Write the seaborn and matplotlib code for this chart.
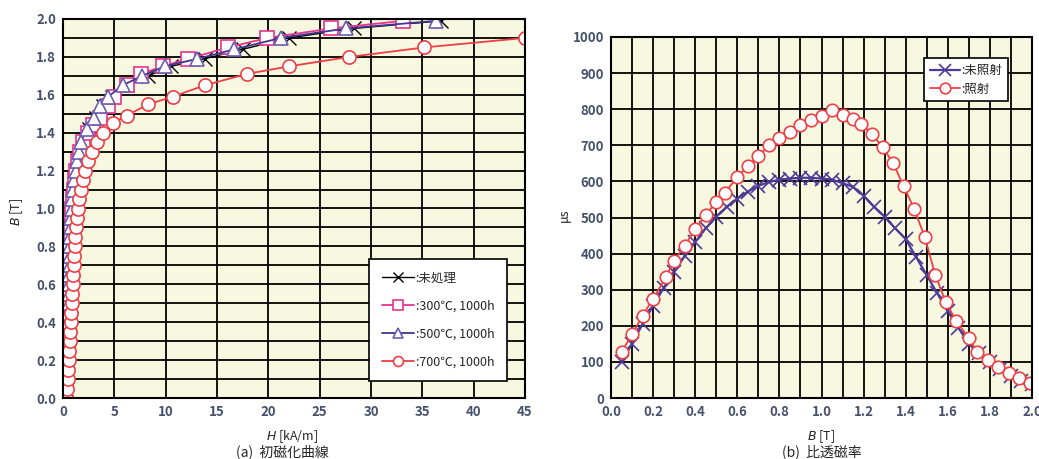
import matplotlib
matplotlib.use('Agg')
import matplotlib.pyplot as plt
import seaborn as sns
import numpy as np
from matplotlib.ticker import MultipleLocator

# (a) 初磁化曲線 : B [T] と H [kA/m]
B_raw = [0.00, 0.05, 0.10, 0.15, 0.20, 0.25, 0.30, 0.35, 0.40, 0.45, 0.50, 0.55, 0.60, 0.65,
         0.70, 0.75, 0.80, 0.85, 0.90, 0.95, 1.00, 1.05, 1.10, 1.15, 1.20, 1.25, 1.30, 1.35,
         1.42, 1.48, 1.54, 1.59, 1.65, 1.70, 1.75, 1.79, 1.84, 1.90, 1.95, 1.99]
H_raw = [0.15, 0.25, 0.30, 0.35, 0.40, 0.45, 0.50, 0.55, 0.58, 0.60, 0.62, 0.65, 0.68, 0.70,
         0.72, 0.75, 0.78, 0.80, 0.85, 0.90, 0.95, 1.00, 1.10, 1.20, 1.35, 1.50, 1.70, 1.95,
         2.5, 3.2, 3.9, 4.8, 6.2, 8.3, 10.5, 13.8, 17.5, 22.0, 28.3, 36.8]

B_300 = [0.00, 0.05, 0.10, 0.15, 0.20, 0.25, 0.30, 0.35, 0.40, 0.45, 0.50, 0.55, 0.60, 0.65,
         0.70, 0.75, 0.80, 0.85, 0.90, 0.95, 1.00, 1.05, 1.10, 1.15, 1.20, 1.25, 1.30, 1.35,
         1.40, 1.44, 1.48, 1.54, 1.59, 1.65, 1.71, 1.75, 1.79, 1.85, 1.90, 1.95, 1.99]
H_300 = [0.10, 0.20, 0.25, 0.30, 0.35, 0.40, 0.45, 0.50, 0.52, 0.55, 0.57, 0.60, 0.62, 0.65,
         0.68, 0.70, 0.72, 0.75, 0.80, 0.85, 0.90, 0.95, 1.05, 1.15, 1.30, 1.45, 1.65, 1.90,
         2.4, 2.9, 3.6, 4.4, 5.0, 6.2, 7.6, 9.7, 12.2, 16.1, 19.9, 26.1, 33.1]

B_500 = [0.00, 0.05, 0.10, 0.15, 0.20, 0.25, 0.30, 0.35, 0.40, 0.45, 0.50, 0.55, 0.60, 0.65,
         0.70, 0.75, 0.80, 0.85, 0.90, 0.95, 1.00, 1.05, 1.10, 1.15, 1.20, 1.25, 1.30, 1.35,
         1.42, 1.48, 1.54, 1.59, 1.65, 1.70, 1.75, 1.79, 1.84, 1.90, 1.95, 1.99]
H_500 = [0.10, 0.18, 0.22, 0.28, 0.32, 0.38, 0.42, 0.46, 0.50, 0.52, 0.55, 0.58, 0.60, 0.62,
         0.65, 0.68, 0.70, 0.72, 0.76, 0.80, 0.85, 0.90, 1.00, 1.10, 1.22, 1.38, 1.55, 1.75,
         2.3, 3.0, 3.6, 4.4, 5.8, 7.7, 9.9, 13.1, 16.7, 21.2, 27.6, 36.3]

B_700 = [0.00, 0.05, 0.10, 0.15, 0.20, 0.25, 0.30, 0.35, 0.40, 0.45, 0.50, 0.55, 0.60, 0.65,
         0.70, 0.75, 0.80, 0.85, 0.90, 0.95, 1.00, 1.05, 1.10, 1.15, 1.20, 1.25, 1.30, 1.35,
         1.40, 1.45, 1.49, 1.55, 1.59, 1.65, 1.71, 1.75, 1.80, 1.85, 1.90]
H_700 = [0.25, 0.35, 0.45, 0.50, 0.55, 0.60, 0.65, 0.70, 0.75, 0.80, 0.85, 0.90, 0.95, 1.00,
         1.05, 1.10, 1.15, 1.20, 1.30, 1.40, 1.50, 1.60, 1.75, 1.90, 2.10, 2.40, 2.80, 3.30,
         3.9, 4.9, 6.2, 8.3, 10.7, 13.8, 17.9, 22.0, 27.9, 35.2, 45.0]

# (b) 比透磁率 : μs と B [T]
B_mu_off = [0.05, 0.10, 0.15, 0.20, 0.25, 0.30, 0.35, 0.40, 0.45, 0.50, 0.55, 0.60, 0.65, 0.70,
            0.75, 0.80, 0.85, 0.90, 0.95, 1.00, 1.05, 1.10, 1.15, 1.20, 1.25, 1.30, 1.35, 1.40,
            1.45, 1.50, 1.55, 1.60, 1.65, 1.70, 1.75, 1.80, 1.85, 1.90, 1.95, 2.00]
mu_off = [100, 150, 205, 255, 305, 350, 393, 432, 470, 502, 530, 552, 572, 588,
          598, 605, 608, 610, 610, 608, 605, 595, 585, 560, 530, 502, 470, 440,
          390, 340, 290, 240, 195, 150, 125, 100, 80, 62, 48, 40]

B_mu_on = [0.05, 0.10, 0.15, 0.20, 0.26, 0.30, 0.35, 0.40, 0.45, 0.50, 0.54, 0.60, 0.65, 0.70,
           0.75, 0.80, 0.85, 0.90, 0.95, 1.00, 1.05, 1.10, 1.15, 1.19, 1.24, 1.29, 1.34, 1.39,
           1.44, 1.49, 1.54, 1.59, 1.64, 1.70, 1.74, 1.79, 1.84, 1.89, 1.94, 1.99]
mu_on = [128, 176, 228, 275, 334, 380, 422, 468, 507, 543, 568, 612, 643, 670,
         700, 720, 738, 756, 770, 780, 798, 784, 773, 759, 731, 695, 651, 587,
         524, 447, 342, 266, 213, 166, 128, 105, 86, 68, 55, 41]

sns.set_theme(style='white')
plt.rcParams['font.family'] = ['Noto Sans CJK JP', 'DejaVu Sans']

W, H = 1039, 459
fig = plt.figure(figsize=(W / 100, H / 100), dpi=100)
bg = '#F8F7DF'
tick_col = '#46506C'

def px_axes(x0, y0, x1, y1):
    return fig.add_axes([x0 / W, 1 - y1 / H, (x1 - x0) / W, (y1 - y0) / H])

def style_axes(ax):
    ax.set_facecolor(bg)
    ax.grid(True, which='both', color='black', linewidth=1.3)
    ax.set_axisbelow(True)
    for s in ax.spines.values():
        s.set_color('black')
        s.set_linewidth(1.5)
    ax.tick_params(which='both', length=0, pad=5, labelsize=9.5, labelcolor=tick_col)
    for t in ax.get_xticklabels() + ax.get_yticklabels():
        t.set_fontweight('semibold')

def draw(ax, x, y, color, marker, label, ms, lw=1.3, mec=None, mfc='white', mew=1.2):
    sns.lineplot(x=x, y=y, ax=ax, sort=False, estimator=None, color=color, marker=marker,
                 markersize=ms, markerfacecolor=mfc, markeredgecolor=mec or color,
                 markeredgewidth=mew, linewidth=lw, label=label)

# ---- (a)
ax1 = px_axes(63, 19, 525, 398)
draw(ax1, H_raw, B_raw, 'black', 'x', ':未処理', 10, lw=1.0, mfc='black', mew=1.0)
draw(ax1, H_300, B_300, '#E6338F', 's', ':300℃, 1000h', 9.5)
draw(ax1, H_500, B_500, '#3F3590', '^', ':500℃, 1000h', 10, mec='#6B5DB0')
draw(ax1, H_700, B_700, '#EE3E45', 'o', ':700℃, 1000h', 9.5)
ax1.set_xlim(0, 45)
ax1.set_ylim(0, 2.0)
ax1.xaxis.set_major_locator(MultipleLocator(5))
ax1.yaxis.set_major_locator(MultipleLocator(0.2))
ax1.yaxis.set_minor_locator(MultipleLocator(0.1))
ax1.yaxis.set_major_formatter(matplotlib.ticker.FormatStrFormatter('%.1f'))
ax1.set_xlabel('')
ax1.set_ylabel('')
style_axes(ax1)
leg1 = ax1.legend(loc='lower right', bbox_to_anchor=(0.974, 0.029), fontsize=9,
                  labelspacing=1.2, handlelength=2.6, handletextpad=0.1, borderpad=1.0,
                  markerscale=0.75, fancybox=False, framealpha=1, facecolor='white',
                  edgecolor='black')
leg1.get_frame().set_linewidth(1.2)

# ---- (b)
ax2 = px_axes(611, 37, 1032, 398)
draw(ax2, B_mu_off, mu_off, '#4B3A96', 'x', ':未照射', 10, lw=1.6, mfc='#4B3A96', mew=1.2)
draw(ax2, B_mu_on, mu_on, '#EE4047', 'o', ':照射', 9)
ax2.set_xlim(0, 2.0)
ax2.set_ylim(0, 1000)
ax2.xaxis.set_major_locator(MultipleLocator(0.2))
ax2.xaxis.set_minor_locator(MultipleLocator(0.1))
ax2.xaxis.set_major_formatter(matplotlib.ticker.FormatStrFormatter('%.1f'))
ax2.yaxis.set_major_locator(MultipleLocator(100))
ax2.set_xlabel('')
ax2.set_ylabel('')
style_axes(ax2)
leg2 = ax2.legend(loc='upper right', bbox_to_anchor=(0.957, 0.958), fontsize=9,
                  labelspacing=0.45, handlelength=2.4, handletextpad=0.1, borderpad=0.45,
                  markerscale=0.85, fancybox=False, framealpha=1, facecolor='white',
                  edgecolor='black')
leg2.get_frame().set_linewidth(1.2)

# 軸ラベルと見出し
def ftext(x, y, s, **kw):
    fig.text(x / W, 1 - y / H, s, ha='center', va='center', **kw)

ftext(17, 212, '$\\it{B}$ [T]', rotation=90, fontsize=9)
ftext(292, 437, '$\\it{H}$ [kA/m]', fontsize=9)
ftext(282, 452, '(a)  初磁化曲線', fontsize=10)
ftext(564, 215, 'μs', rotation=90, fontsize=9)
ftext(821, 437, '$\\it{B}$ [T]', fontsize=9)
ftext(822, 452, '(b)  比透磁率', fontsize=10)

fig.savefig('out.png', dpi=100, facecolor='white')
